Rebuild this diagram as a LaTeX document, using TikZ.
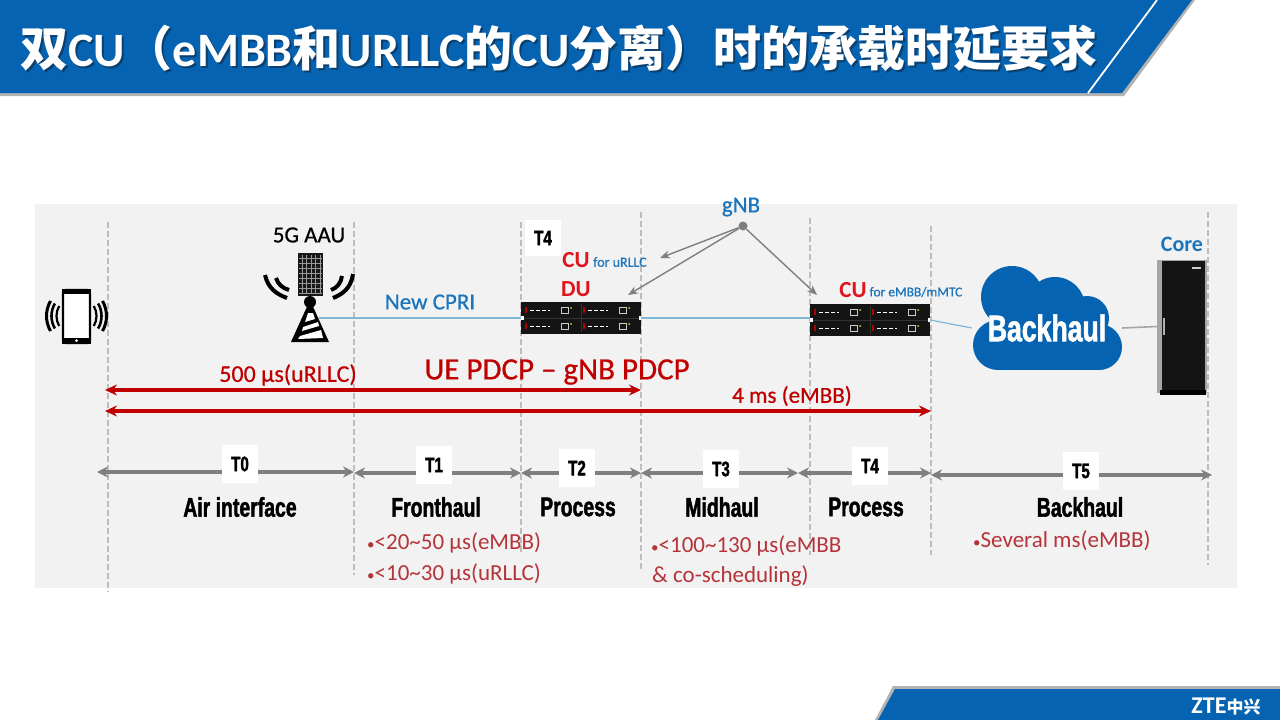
\documentclass[tikz,border=0pt]{standalone}
\usepackage{fontspec}
\setmainfont{Carlito}
\newfontfamily\medfont[FakeBold=0.6]{Carlito}
\newfontfamily\cjkfont{Noto Sans CJK SC}
\newfontfamily\impactfont[FakeStretch=0.72,FakeBold=1.6]{Liberation Sans}
\usetikzlibrary{arrows.meta}
\definecolor{ztebar}{HTML}{0563B1}
\definecolor{ztedark}{HTML}{0A3F6E}
\definecolor{panelgray}{HTML}{F2F2F2}
\definecolor{guidegray}{HTML}{BDBDBD}
\definecolor{linkblue}{HTML}{7FB8D6}
\definecolor{textblue}{HTML}{1B75BC}
\definecolor{hotred}{HTML}{E0141C}
\definecolor{pathred}{HTML}{C00000}
\definecolor{notered}{HTML}{B5343A}
\definecolor{spangray}{HTML}{7F7F7F}
\newcommand{\fsz}[1]{\fontsize{#1}{#1}\selectfont}
\newcommand{\titletext}{{\cjkfont\bfseries 双}CU{\cjkfont\bfseries （}eMBB{\cjkfont\bfseries 和}URLLC{\cjkfont\bfseries 的}CU{\cjkfont\bfseries 分离）时的承载时延要求}}
\newcommand{\dotmark}{{\fsz{15}•}}
\begin{document}
\begin{tikzpicture}[
    x=1pt, y=-1pt,
    guide/.style={guidegray, line width=1.3pt, dashed, dash pattern=on 6pt off 3pt},
    redspan/.style={pathred, line width=3.4pt, {Stealth[length=12pt,width=11pt]}-{Stealth[length=12pt,width=11pt]}},
    timespan/.style={spangray, line width=3.2pt, {Stealth[length=11pt,width=11pt]}-{Stealth[length=11pt,width=11pt]}},
    feeder/.style={-{Stealth[length=10pt,width=8pt]}, spangray, line width=1.4pt},
    link/.style={linkblue, line width=1.2pt},
    tbox/.style={fill=white, minimum width=36pt, minimum height=38pt, inner sep=0pt, font=\impactfont\bfseries\fsz{21}},
    phase/.style={font=\impactfont\bfseries\fsz{27}, inner sep=0pt},
    note/.style={notered, font=\fsz{23}, inner sep=0pt, anchor=west},
    tag/.style={font=\medfont\fsz{23}, inner sep=0pt},
    subtag/.style={textblue, font=\medfont\fsz{14}, inner sep=0pt},
    rack/.style={fill=black!92, minimum width=120pt, minimum height=32pt, inner sep=0pt},
    serverface/.pic={
        \draw[black!80, line width=0.5pt] (-58,0) -- (58,0);
        \draw[black!80, line width=0.5pt] (0,-14) -- (0,14);
        \foreach \qx in {-54,4} \foreach \qy in {-8,8} {
            \fill[red!70!black] (\qx-2,\qy-3) rectangle ++(2,6);
            \draw[white, line width=1pt, dash pattern=on 4pt off 2pt] (\qx+3,\qy) -- ++(20,0);
            \draw[white!80!black, line width=0.8pt] (\qx+34,\qy-3) rectangle ++(7,6);
            \fill[yellow!80!green] (\qx+44,\qy-2) circle (1);
        }
        \fill[white] (-60,-2) rectangle ++(2.5,4);
        \fill[white] (57.5,-2) rectangle ++(2.5,4);
    }
]
    \useasboundingbox (0,0) rectangle (1280,720);

    % Banner
    \fill[black!30] (0,0) -- (1195,0) -- (1124,96) -- (0,96) -- cycle;
    \fill[ztebar] (0,0) -- (1192,0) -- (1122,93) -- (0,93) -- cycle;
    \draw[white, line width=1.8pt] (1157,0) -- (1088,93);
    \node[anchor=west, inner sep=0pt, text=ztedark, font=\bfseries\fsz{48}] (titleshade) at (22,50) {\titletext};
    \node[anchor=west, inner sep=0pt, text=white, font=\bfseries\fsz{48}] (title) at (20,48) {\titletext};

    % Footer
    \fill[black!30] (893,686) -- (1280,686) -- (1280,720) -- (875,720) -- cycle;
    \fill[ztebar] (895,689) -- (1280,689) -- (1280,720) -- (878,720) -- cycle;
    \node[text=white, inner sep=0pt, font=\bfseries\fsz{24}] (brand) at (1226,707) {ZTE{\cjkfont\fsz{17}中兴}};

    % Panel
    \fill[panelgray] (35,204) rectangle (1237,588);

    % Guides
    \foreach \n/\gx/\gtop/\gbot in {a/108/222/592, b/354/222/575, c/521/222/555, d/641/212/570, e/810/218/555, f/931/226/555, g/1208/212/565} {
        \coordinate (\n top) at (\gx,\gtop);
        \coordinate (\n bot) at (\gx,\gbot);
        \draw[guide] (\n top) -- (\n bot);
    }

    % Phone
    \node[draw=black, fill=white, line width=2.4pt, rounded corners=3pt, minimum width=27pt, minimum height=53pt, inner sep=0pt] (phone) at (76.5,316.5) {};
    \fill[black] (phone.north west) rectangle ([yshift=-5pt]phone.north east);
    \fill[black] ([yshift=6pt]phone.south west) rectangle (phone.south east);
    \fill[white] (76.5,340.5) circle (1.5);
    \foreach \r/\w in {1/2.2,2/2.6,3/3} {
        \draw[black, line width=\w pt] (76.5,316) ++(150:{15+5*\r}) arc[start angle=150, end angle=210, radius={15+5*\r}];
        \draw[black, line width=\w pt] (76.5,316) ++(-30:{15+5*\r}) arc[start angle=-30, end angle=30, radius={15+5*\r}];
    }

    % Tower
    \node[tag] (aaulabel) at (309,235) {5G AAU};
    \fill[black!90] (298,253) rectangle (323,296);
    \foreach \px in {302,306.5,311,315.5,320} \draw[white!60!black, line width=0.4pt] (\px,255) -- (\px,294);
    \foreach \py in {258,263,268,273,278,283,288,293} \draw[white!60!black, line width=0.4pt] (299,\py) -- (322,\py);
    \fill[black] (310,302) circle (6);
    \fill[black] (310,300) -- (329,342) -- (291,342) -- cycle;
    \fill[white] (308,313) -- (313,313) -- (315,319) -- (305,322) -- cycle;
    \fill[white] (303,327) -- (318,322) -- (319,326) -- (302,331) -- cycle;
    \fill[white] (300,336) -- (321,330) -- (323,338) -- (298,339) -- cycle;
    \draw[black, line width=4pt] (265,275) .. controls (268,288) and (276,294) .. (287,298);
    \draw[black, line width=4pt] (276,278) .. controls (278,284) and (282,288) .. (289,290);
    \draw[black, line width=4pt] (353,274) .. controls (351,288) and (343,294) .. (333,298);
    \draw[black, line width=4pt] (342,276) .. controls (341,283) and (337,288) .. (331,290);
    \node[minimum width=18pt, minimum height=1pt, inner sep=0pt] (aau) at (310,318) {};

    % Racks
    \node[rack] (du) at (581,318) {};
    \pic at (du) {serverface};
    \node[rack] (cu) at (870,320) {};
    \pic at (cu) {serverface};

    % Cloud and core
    \foreach \cx/\cy/\cr in {1012/297/31, 1055/307/30, 1087/318/22, 1099/347/23, 998/345/25}
        \fill[ztebar] (\cx,\cy) circle (\cr);
    \fill[ztebar] (998,320) rectangle (1099,370);
    \node[minimum width=150pt, minimum height=60pt, inner sep=0pt, text=white, font=\impactfont\bfseries\fsz{37}] (backhaul) at (1047,328) {Backhaul};
    \node[fill=black!35, minimum width=50pt, minimum height=133pt, inner sep=0pt] (core) at (1182,326.5) {};
    \fill[black!92] (1162,261) rectangle (1205,391);
    \fill[black] (1160,390) rectangle (1206,395);
    \fill[black!30] (1163,318) rectangle (1165,335);
    \fill[white!80!black] (1192,267) rectangle (1201,269);
    \node[tag, textblue, font=\bfseries\fsz{22}] (corelabel) at (1182,244) {Core};

    % Links
    \draw[link] (aau.east) -- (du.west);
    \draw[link] (du.east) -- (du.east -| cu.west);
    \draw[link] (cu.east) -- (backhaul.west);
    \draw[black!35, line width=1.6pt] (backhaul.east) -- (core.west);
    \node[tag, textblue] (cpri) at (430,302) {New CPRI};

    % gNB
    \node[tag, textblue] (gnb) at (741,207) {gNB};
    \node[circle, fill=spangray, minimum size=9pt, inner sep=0pt] (gnbdot) at (743,226) {};
    \coordinate (cuurllcend) at (660,258);
    \coordinate (duend) at (628,295);
    \coordinate (cuembbend) at (817,295);
    \draw[feeder] (gnbdot) -- (cuurllcend);
    \draw[feeder] (gnbdot) -- (duend);
    \draw[feeder] (gnbdot) -- (cuembbend);

    % T4 tag and red labels
    \node[tbox, minimum height=36pt] (tfourtop) at (543,238) {T4};
    \node[tag, hotred, font=\bfseries\fsz{23}] (cuu) at (576,260) {CU};
    \node[subtag] (cuufor) at (620,262) {for uRLLC};
    \node[tag, hotred, font=\bfseries\fsz{23}] (dulabel) at (576,289) {DU};
    \node[tag, hotred, font=\bfseries\fsz{23}] (cue) at (853,290) {CU};
    \node[subtag, font=\medfont\fsz{13.5}] (cuefor) at (916,292) {for eMBB/mMTC};

    % Red spans
    \coordinate (spanaL) at (105,390);
    \coordinate (spanaR) at (641,390);
    \coordinate (spanbL) at (105,411);
    \coordinate (spanbR) at (931,411);
    \draw[redspan] (spanaL) -- (spanaR);
    \draw[redspan] (spanbL) -- (spanbR);
    \node[tag, pathred, font=\medfont\fsz{24}] (urllc) at (288,375) {500 μs(uRLLC)};
    \node[tag, pathred, font=\medfont\fsz{31}] (pdcp) at (557,372) {UE PDCP – gNB PDCP};
    \node[tag, pathred] (embb) at (792,396) {4 ms (eMBB)};

    % Time segments
    \foreach \i/\xa/\xb/\yy/\lx/\ly/\lab in {
        0/97/354/472/240/464/T0,
        1/354/521/473/434/465/T1,
        2/521/641/473/577/468/T2,
        3/641/798/473/721/469/T3,
        4/798/931/473/870/466/T4,
        5/931/1212/475/1081/471/T5} {
        \coordinate (segL\i) at (\xa,\yy);
        \coordinate (segR\i) at (\xb,\yy);
        \draw[timespan] (segL\i) -- (segR\i);
        \node[tbox] (box\i) at (\lx,\ly) {\lab};
    }
    \node[phase] (air) at (240,507) {Air interface};
    \node[phase] (front) at (436,507) {Fronthaul};
    \node[phase] (proca) at (578,507) {Process};
    \node[phase] (mid) at (722,507) {Midhaul};
    \node[phase] (procb) at (866,507) {Process};
    \node[phase] (back) at (1080,507) {Backhaul};

    % Notes
    \node[note] (notea) at (367,543) {\dotmark<20\textasciitilde 50 μs(eMBB)};
    \node[note] (noteb) at (367,574) {\dotmark<10\textasciitilde 30 μs(uRLLC)};
    \node[note] (notec) at (651,546) {\dotmark<100\textasciitilde 130 μs(eMBB};
    \node[note] (noted) at (652,576) {\& co-scheduling)};
    \node[note] (notee) at (973,541) {\dotmark Several ms(eMBB)};
\end{tikzpicture}
\end{document}
